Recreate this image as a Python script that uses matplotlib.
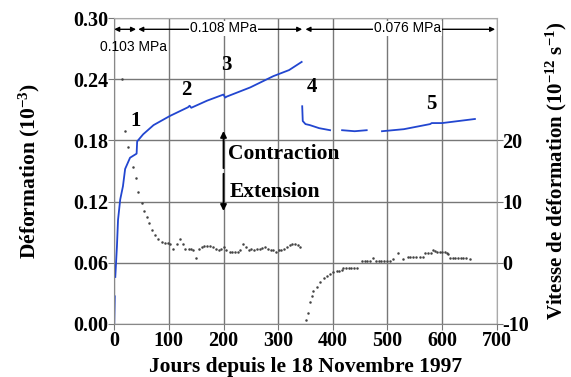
import numpy as np
import matplotlib as mpl
import matplotlib.pyplot as plt

mpl.rcParams['font.family'] = 'Liberation Serif'
mpl.rcParams['font.weight'] = 'bold'
mpl.rcParams['mathtext.fontset'] = 'custom'
mpl.rcParams['mathtext.rm'] = 'Liberation Serif:bold'
mpl.rcParams['mathtext.bf'] = 'Liberation Serif:bold'
mpl.rcParams['mathtext.default'] = 'bf'

# strain curve (days, strain x1e-3), NaN = gap in the record
strain_days = [0, 1, np.nan, 2, 5, 7, 11, 16, 20, 29, 41, 42, 53, 72, 102, 135, 138, 141, 170,
               200, 203, 206, 249, 291, 320, 343,
               np.nan, 344, 345, 350, 358, 375, 395, np.nan, 417, 440, 462, np.nan,
               490, 530, 578, 581, 600, 630, 660]
strain_vals = [0.0, 0.027, np.nan, 0.046, 0.076, 0.102, 0.122, 0.135, 0.152, 0.163, 0.167, 0.179,
               0.186, 0.195, 0.204, 0.2125, 0.214, 0.212, 0.219,
               0.225, 0.222, 0.223, 0.232, 0.243, 0.249, 0.257,
               np.nan, 0.2135, 0.199, 0.196, 0.195, 0.192, 0.190, np.nan, 0.190, 0.189, 0.190, np.nan,
               0.189, 0.191, 0.196, 0.197, 0.197, 0.199, 0.201]

# strain rate (days, 1e-12 s-1)
rate_days = [14, 20, 25, 35, 40, 44, 51, 55, 60, 64, 69, 75, 81, 87, 93, 98, 103, 108, 114, 120,
             125, 130, 136, 141, 145, 150, 155, 160, 165, 170, 175, 180, 186, 191, 196, 200, 205,
             211, 216, 221, 226, 231, 236, 241, 246, 251, 256, 261, 266, 271, 276, 281, 286, 291,
             296, 301, 306, 311, 316, 321, 326, 331, 336, 340,
             351, 355, 358, 362, 364, 371, 377, 383, 389, 395, 400, 407, 412, 416, 419, 424, 429,
             434, 439, 444, 453, 458, 463, 468, 474, 479, 484, 489, 494, 499, 505, 510, 519, 528,
             537, 541, 547, 553, 559, 565, 569, 574, 579, 583, 587, 591, 596, 600, 605, 609, 611,
             614, 619, 624, 629, 634, 639, 644, 651]
rate_vals = [30.1, 21.6, 19.0, 15.6, 13.8, 11.5, 9.7, 8.4, 7.5, 6.5, 5.4, 4.6, 3.8, 3.4, 3.2, 3.2,
             3.0, 2.3, 3.1, 3.9, 3.0, 2.3, 2.3, 2.2, 2.0, 0.8, 2.3, 2.6, 2.7, 2.7, 2.7, 2.6, 2.2,
             2.0, 2.2, 2.5, 2.1, 1.8, 1.8, 1.8, 1.8, 2.0, 3.1, 2.6, 2.1, 2.3, 2.0, 2.2, 2.3, 2.4,
             2.6, 2.3, 2.0, 2.1, 1.8, 2.0, 2.1, 2.3, 2.6, 2.9, 3.0, 3.0, 2.9, 2.5,
             -9.4, -8.2, -6.5, -5.5, -4.7, -3.9, -3.1, -2.5, -2.2, -1.8, -1.5, -1.3, -1.3, -1.2,
             -0.8, -0.8, -0.8, -0.8, -0.8, -0.8, 0.2, 0.2, 0.2, 0.2, 0.8, 0.2, 0.2, 0.2, 0.2, 0.2,
             0.3, 0.6, 1.6, 0.6, 1.0, 1.0, 1.0, 1.0, 1.0, 1.0, 1.6, 1.6, 1.6, 2.0, 1.9, 1.8, 1.8,
             1.8, 1.7, 1.6, 1.5, 0.7, 0.7, 0.7, 0.7, 0.7, 0.7, 0.7, 0.6]

x_ticks = [0, 100, 200, 300, 400, 500, 600, 700]
y_ticks = [0.00, 0.06, 0.12, 0.18, 0.24, 0.30]
rate_ticks = [-10, 0, 10, 20]
phase_labels = ['1', '2', '3', '4', '5']
phase_pos = [(39, 0.199), (132, 0.229), (205, 0.254), (362, 0.232), (581, 0.216)]

fig = plt.figure(figsize=(5.71, 3.77), dpi=100)
ax = fig.add_axes([0.2, 0.141, 0.67, 0.811])

ax.set_xlim(0, 700)
ax.set_ylim(0, 0.30)
ax.set_xticks(x_ticks)
ax.set_yticks(y_ticks)
ax.set_xticklabels([str(v) for v in x_ticks], fontweight='bold')
ax.set_yticklabels(['%.2f' % v for v in y_ticks], fontweight='bold')
ax.tick_params(labelsize=14.5, length=4, color='#777777', pad=0)
ax.tick_params(axis='x', pad=1.5)
for s in ax.spines.values():
    s.set_color('#888888')
ax.spines['top'].set_color('#aaaaaa')
ax.spines['right'].set_color('#aaaaaa')
ax.grid(True, color='#777777', lw=1)
ax.set_axisbelow(True)

ax.plot(strain_days, strain_vals, color='#2246d0', lw=1.3)

ax2 = ax.twinx()
ax2.set_ylim(-10, 40)
ax2.set_yticks(rate_ticks)
ax2.set_yticklabels([str(v) for v in rate_ticks], fontweight='bold')
ax2.tick_params(labelsize=14.5, length=4, color='#777777', pad=0)
for s in ax2.spines.values():
    s.set_visible(False)
ax2.plot(rate_days, rate_vals, ls='none', marker='.', ms=1.6, color='#444444')

ax.set_xlabel('Jours depuis le 18 Novembre 1997', fontsize=15.5, fontweight='bold')
ax.set_ylabel('Déformation (10$^{-3}$)', fontsize=15.5, fontweight='bold')
ax2.set_ylabel('Vitesse de déformation (10$^{-12}$ s$^{-1}$)', fontsize=15,
               fontweight='bold')
ax.xaxis.set_label_coords(0.5, -0.11)
ax.yaxis.set_label_coords(-0.19, 0.5)
ax2.yaxis.set_label_coords(1.122, 0.5)

for lab, (xd, yd) in zip(phase_labels, phase_pos):
    ax.text(xd, yd, lab, fontsize=15, fontweight='bold', ha='center', va='center')

# contraction / extension arrow
ax.annotate('', xy=(200, 0.192), xytext=(200, 0.150),
            arrowprops=dict(arrowstyle='-|>', color='black', lw=1.3, mutation_scale=9))
ax.annotate('', xy=(200, 0.108), xytext=(200, 0.150),
            arrowprops=dict(arrowstyle='-|>', color='black', lw=1.3, mutation_scale=9))
ax.text(209, 0.167, 'Contraction', fontsize=15.5, fontweight='bold', va='center')
ax.text(212, 0.129, 'Extension', fontsize=15.5, fontweight='bold', va='center')

# load stages on top
ya = 0.289
arr = dict(arrowstyle='<|-|>', color='black', lw=1, mutation_scale=7, shrinkA=0, shrinkB=0)
ax.annotate('', xy=(0, ya), xytext=(40, ya), arrowprops=arr)
ax.annotate('', xy=(44, ya), xytext=(344, ya), arrowprops=arr)
ax.annotate('', xy=(350, ya), xytext=(697, ya), arrowprops=arr)
mpa = dict(family='Liberation Sans', fontsize=10, weight='normal', va='center', ha='center',
           bbox=dict(fc='white', ec='none', pad=0.5))
ax.text(200, ya + 0.001, '0.108 MPa', **mpa)
ax.text(537, ya + 0.001, '0.076 MPa', **mpa)
ax.text(36, 0.272, '0.103 MPa', family='Liberation Sans', fontsize=10, weight='normal',
        va='center', ha='center')

fig.savefig('out.png', dpi=100)
